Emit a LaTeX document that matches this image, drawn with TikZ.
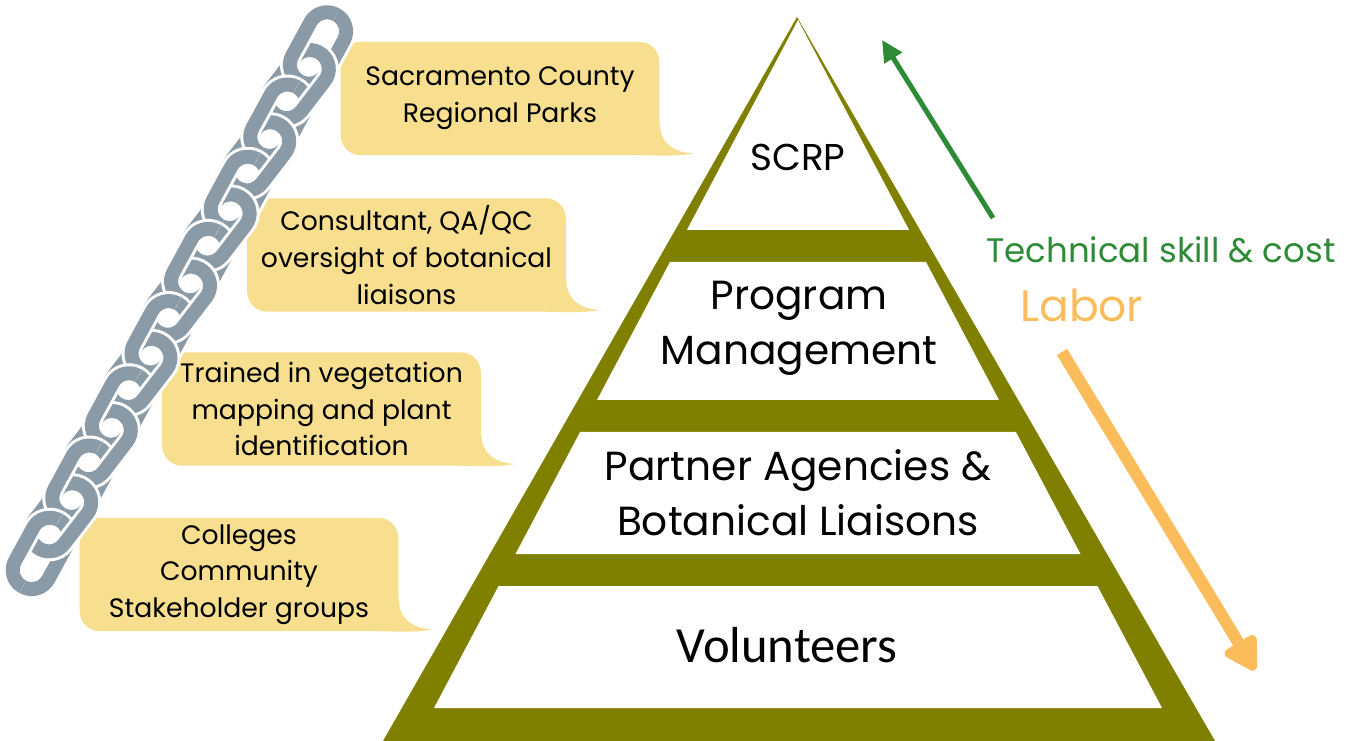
\documentclass[tikz,border=0pt]{standalone}
\usepackage{fontspec}
\setmainfont{Poppins}
\newfontfamily\volfont{Carlito}
\usetikzlibrary{calc,arrows.meta}
\definecolor{pyrolive}{RGB}{128,128,0}
\definecolor{bubblefill}{RGB}{247,223,143}
\definecolor{chaingray}{RGB}{138,154,167}
\definecolor{skillgreen}{RGB}{46,139,53}
\definecolor{laborgold}{RGB}{251,189,92}
% speech-bubble tail hanging off the lower right corner of a bubble node
\newcommand\bubbletail[1]{%
  \fill[bubblefill] ($(#1.south east)+(0,-34)$)
    .. controls ($(#1.south east)+(0,-12)$) and ($(#1.south east)+(14,-3)$) .. ($(#1.south east)+(34,-2)$)
    .. controls ($(#1.south east)+(18,1)$) and ($(#1.south east)+(8,0)$) .. ($(#1.south east)+(-20,0)$) -- cycle;}
% one chain link: a stadium outline in a local frame whose x axis runs down the chain
\newcommand\chainlink[1]{%
  \draw[#1] (-38,-19) -- (38,-19) -- (38,19) -- (-38,19) -- cycle;}
% local frame of link #1 (centre on the chain axis, tilt for odd links)
\newcommand\linkframe[1]{%
  \pgfmathsetmacro\cx{318-#1*19.8}%
  \pgfmathsetmacro\cy{48+#1*36.1}%
  \pgfmathsetmacro\th{241.4+ifthenelse(mod(#1,2)==1,-9,0)}%
  \pgfmathsetmacro\ux{0.75*cos(\th)}%
  \pgfmathsetmacro\uy{0.75*sin(\th)}%
  \pgfmathsetmacro\vx{-\uy}%
  \pgfmathsetmacro\vy{\ux}}
\begin{document}
\begin{tikzpicture}[x=0.75pt,y=-0.75pt,
  bubble/.style={fill=bubblefill, rounded corners=15pt, minimum width=239pt, minimum height=85pt,
    inner sep=0pt, align=center, font=\fontsize{20}{27.5}\selectfont},
  tiertext/.style={inner sep=0pt, align=center, font=\fontsize{30.5}{41.25}\selectfont},
  linkhalo/.style={white, line width=15pt, rounded corners=14.2pt},
  linkbody/.style={chaingray, line width=10.5pt, rounded corners=14.2pt}]
\useasboundingbox (0,0) rectangle (1360,741);
\fill[white] (0,0) rectangle (1360,741);

% ---- pyramid ----
\fill[pyrolive] (797,17) -- (383,741) -- (1215,741) -- cycle;
\fill[white] (798,20) -- (909.1,230) -- (686.9,230) -- cycle;
\fill[white] (670.0,262) -- (926.0,262) -- (999.0,400) -- (597.0,400) -- cycle;
\fill[white] (580.1,432) -- (1015.9,432) -- (1080.5,554) -- (515.5,554) -- cycle;
\fill[white] (498.6,586) -- (1097.4,586) -- (1162.0,708) -- (434.0,708) -- cycle;

\node[inner sep=0pt, font=\fontsize{28}{32}\selectfont] (scrp) at (798,157) {SCRP};
\node[tiertext] (pm) at (799,328) {Program\\Management};
\node[tiertext] (pa) at (798,493) {Partner Agencies \&\\Botanical Liaisons};
\node[inner sep=0pt, font=\volfont\fontsize{38}{44}\selectfont] (vol) at (787,645) {Volunteers};

% ---- trend arrows ----
\coordinate (skillfrom) at (993,218);
\coordinate (skillto) at (882,40);
\draw[skillgreen, line width=3.75pt, -{Triangle[length=16pt,width=15pt]}] (skillfrom) -- (skillto);
\coordinate (laborfrom) at (1062,352);
\coordinate (laborto) at (1255,670);
\draw[laborgold, line width=9pt, -{Triangle[length=28pt,width=30pt,round]}] (laborfrom) -- (laborto);
\node[inner sep=0pt, anchor=west, text=skillgreen, font=\fontsize{25.5}{30}\selectfont] (skill) at (986,250) {Technical skill \& cost};
\node[inner sep=0pt, anchor=west, text=laborgold, font=\fontsize{33}{38}\selectfont] (labor) at (1020,305) {Labor};

% ---- speech bubbles ----
\node[bubble] (b1) at (500,98.5) {Sacramento County\\Regional Parks};
\node[bubble] (b2) at (406.5,255) {Consultant, QA/QC\\oversight of botanical\\liaisons};
\node[bubble] (b3) at (321.5,409) {Trained in vegetation\\mapping and plant\\identification};
\node[bubble] (b4) at (239,574.5) {Colleges\\Community\\Stakeholder groups};
\bubbletail{b1}
\bubbletail{b2}
\bubbletail{b3}
\bubbletail{b4}

% ---- chain: flat links first, then the crossing links, then the flat links' near rail on top ----
\foreach \k in {0,2,...,14} {
  \linkframe{\k}
  \begin{scope}[shift={(\cx,\cy)}, x={(\ux pt,\uy pt)}, y={(\vx pt,\vy pt)}]
    \chainlink{linkhalo}
    \chainlink{linkbody}
  \end{scope}
}
\foreach \k in {1,3,...,13} {
  \linkframe{\k}
  \begin{scope}[shift={(\cx,\cy)}, x={(\ux pt,\uy pt)}, y={(\vx pt,\vy pt)}]
    \chainlink{linkhalo}
    \chainlink{linkbody}
  \end{scope}
}
\foreach \k in {0,2,...,14} {
  \linkframe{\k}
  \begin{scope}[shift={(\cx,\cy)}, x={(\ux pt,\uy pt)}, y={(\vx pt,\vy pt)}]
    \clip (-60,-40) -- (60,-40) -- (60,0) -- (-60,0) -- cycle;
    \chainlink{linkhalo}
    \chainlink{linkbody}
  \end{scope}
}
\end{tikzpicture}
\end{document}
